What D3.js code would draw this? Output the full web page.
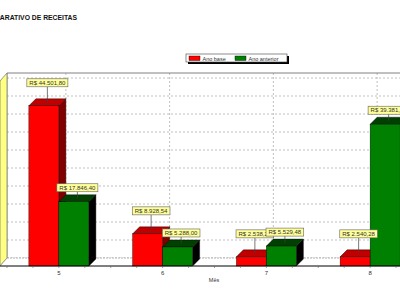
<!DOCTYPE html>
<html><head><meta charset="utf-8">
<script src="https://cdn.jsdelivr.net/npm/d3@7"></script>
<style>body{margin:0;background:#fff}svg{display:block;font-family:"Liberation Sans",Arial,sans-serif}</style>
</head><body><svg id="c" width="400" height="300"></svg>
<script>
const categories = ["5","6","7","8"];
const seriesNames = ["Ano base","Ano anterior"];
const anoBase = [44501.80, 8928.54, 2538.20, 2540.28];
const anoAnterior = [17846.40, 5288.00, 5529.48, 39381.20];
const yTicks = [0,5000,10000,15000,20000,25000,30000,35000,40000,45000,50000];
const title = "COMPARATIVO DE RECEITAS";
const xTitle = "Mês";

const svg = d3.select("#c");
const DX = 7, DY = 8, BDX = 7, BDY = 7;
const x = d3.scaleBand().domain(categories).range([7, 422]).padding(0);
const yF = d3.scaleLinear().domain([0, 50000]).range([266, 86]);
const yB = v => yF(v) - DY;
const wallTop = 73;
const locale = d3.formatLocale({decimal:",", thousands:".", grouping:[3], currency:["R$ ",""]});
const fmt = locale.format("$,.2f");

// title
svg.append("text").attr("x",-20).attr("y",20)
  .attr("font-size",8).attr("font-weight","bold").attr("fill","#111")
  .attr("textLength",97).attr("lengthAdjust","spacingAndGlyphs").text(title);

// back wall
const backL = x.range()[0], backR = 400;
svg.append("rect").attr("x",backL).attr("y",wallTop).attr("width",backR-backL).attr("height",yB(0)-wallTop).attr("fill","#fff");
svg.selectAll(".hg").data(yTicks).join("line").attr("x1",backL).attr("x2",backR)
  .attr("y1",d=>yB(d)).attr("y2",d=>yB(d)).attr("stroke","#b0b0b0").attr("stroke-width",0.8).attr("stroke-dasharray","2,2");
svg.selectAll(".vg").data(categories).join("line")
  .attr("x1",d=>x(d)+x.bandwidth()/2+DX).attr("x2",d=>x(d)+x.bandwidth()/2+DX)
  .attr("y1",wallTop).attr("y2",yB(0)).attr("stroke","#b0b0b0").attr("stroke-width",0.8).attr("stroke-dasharray","2,2");
svg.append("line").attr("x1",backL).attr("x2",backR).attr("y1",wallTop).attr("y2",wallTop).attr("stroke","#808080").attr("stroke-width",1);
svg.append("line").attr("x1",backL).attr("x2",backL).attr("y1",wallTop).attr("y2",yB(0)).attr("stroke","#808080").attr("stroke-width",0.8);
// left wall (yellow)
svg.append("polygon").attr("points",[[backL,wallTop],[backL,yB(0)],[backL-DX,yF(0)],[backL-DX,wallTop+DY]].join(" "))
  .attr("fill","#ffff80").attr("stroke","#808080").attr("stroke-width",0.8);
// floor
svg.append("polygon").attr("points",[[backL,yB(0)],[backR,yB(0)],[backR,yF(0)],[backL-DX,yF(0)]].join(" "))
  .attr("fill","#fff");
svg.append("line").attr("x1",backL).attr("x2",backR).attr("y1",yB(0)).attr("y2",yB(0)).attr("stroke","#a0a0a0").attr("stroke-width",0.8).attr("stroke-dasharray","2,1");
svg.append("line").attr("x1",backL).attr("x2",backL-DX).attr("y1",yB(0)).attr("y2",yF(0)).attr("stroke","#909090").attr("stroke-width",0.8);

// bars
const series = [
  {name:seriesNames[0], vals:anoBase, front:"#ff0000", top:"#c00000", side:"#800000", off:-30, lab:19},
  {name:seriesNames[1], vals:anoAnterior, front:"#008000", top:"#004000", side:"#000000", off:0, lab:10}
];
const bw = 30;
const gBars = svg.append("g");
categories.forEach((c,i)=>{
  series.forEach(s=>{
    const v = s.vals[i];
    const x0 = x(c)+x.bandwidth()/2+s.off, x1 = x0+bw;
    const yt = yF(v), yb = yF(0);
    const g = gBars.append("g");
    g.append("polygon").attr("points",[[x1,yb],[x1,yt],[x1+BDX,yt-BDY],[x1+BDX,yb-BDY]].join(" ")).attr("fill",s.side).attr("stroke","#000").attr("stroke-width",0.4);
    g.append("polygon").attr("points",[[x0,yt],[x0+BDX,yt-BDY],[x1+BDX,yt-BDY],[x1,yt]].join(" ")).attr("fill",s.top).attr("stroke","#000").attr("stroke-width",0.4);
    g.append("rect").attr("x",x0).attr("y",yt).attr("width",bw).attr("height",yb-yt).attr("fill",s.front).attr("stroke","#000").attr("stroke-width",0.4);
  });
});

// axis line + ticks
svg.append("line").attr("x1",0).attr("x2",400).attr("y1",yF(0)).attr("y2",yF(0)).attr("stroke","#000").attr("stroke-width",1);
const tickPos = [];
categories.forEach(c=>{ for(let k=0;k<4;k++) tickPos.push(x(c)+k*x.bandwidth()/4); });
svg.selectAll(".tk").data(tickPos).join("line").attr("x1",d=>d).attr("x2",d=>d).attr("y1",yF(0)).attr("y2",yF(0)+2).attr("stroke","#606060").attr("stroke-width",0.6);
svg.selectAll(".xl").data(categories).join("text").attr("x",d=>x(d)+x.bandwidth()/2).attr("y",275)
  .attr("text-anchor","middle").attr("font-size",6).attr("fill","#333").text(d=>d);
svg.append("text").attr("x",214).attr("y",282).attr("text-anchor","middle").attr("font-size",5.5).attr("fill","#333").text(xTitle);

// labels
categories.forEach((c,i)=>{
  series.forEach(s=>{
    const v = s.vals[i];
    const cx = x(c)+x.bandwidth()/2+s.off+bw/2+BDX/2;
    const topC = yF(v)-BDY/2;
    const bot = yF(v)-s.lab;
    const txt = fmt(v);
    const g = svg.append("g");
    g.append("line").attr("x1",cx).attr("x2",cx).attr("y1",bot).attr("y2",topC).attr("stroke","#404040").attr("stroke-width",0.7);
    const t = g.append("text").attr("x",cx).attr("y",bot-1.8).attr("text-anchor","middle").attr("font-size",6).attr("fill","#333").text(txt);
    const w = t.node().getComputedTextLength()+5;
    g.insert("rect","text").attr("x",cx-w/2).attr("y",bot-8).attr("width",w).attr("height",8).attr("fill","#ffff99").attr("stroke","#606060").attr("stroke-width",0.6);
  });
});

// legend
const lg = svg.append("g");
lg.append("rect").attr("x",188).attr("y",56).attr("width",101).attr("height",8).attr("fill","#000");
lg.append("rect").attr("x",186).attr("y",54).attr("width",101).attr("height",8).attr("fill","#fff").attr("stroke","#404040").attr("stroke-width",0.6);
const legX = [189, 235];
series.forEach((s,i)=>{
  lg.append("rect").attr("x",legX[i]).attr("y",56).attr("width",11).attr("height",4.5).attr("fill",s.front).attr("stroke","#000").attr("stroke-width",0.4);
  lg.append("text").attr("x",legX[i]+13.5).attr("y",60.5).attr("font-size",5.5).attr("fill","#333").text(s.name);
});
</script></body></html>
